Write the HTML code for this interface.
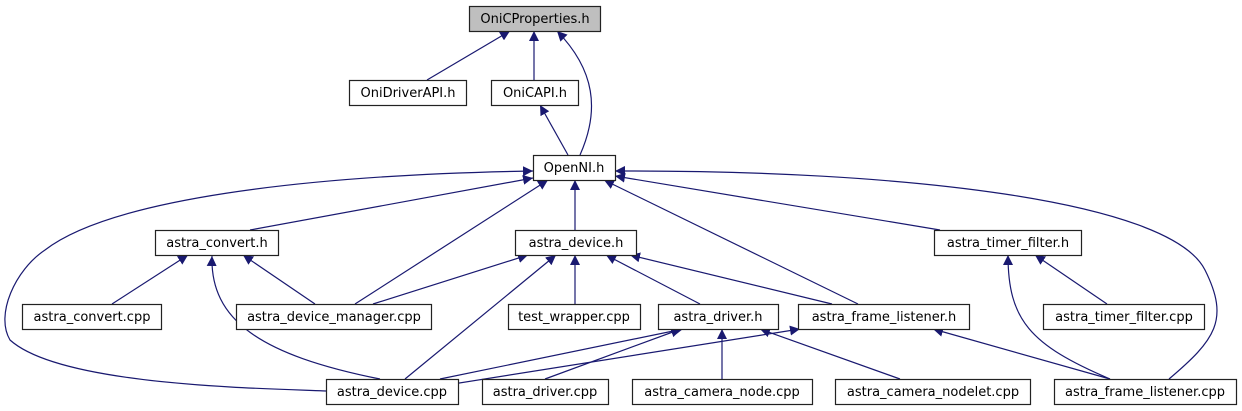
<!DOCTYPE html>
<html><head><meta charset="utf-8"><style>
html,body{margin:0;padding:0;background:#fff;width:1242px;height:411px;overflow:hidden}
svg text{font-family:"DejaVu Sans","Liberation Sans",sans-serif;font-size:13px;fill:#000}
</style></head><body>
<svg width="1242" height="411" viewBox="0 0 1242 411" xmlns="http://www.w3.org/2000/svg">
<defs><marker id="a" viewBox="0 0 10 10" refX="10" refY="5" markerWidth="10" markerHeight="10" markerUnits="userSpaceOnUse" orient="auto"><path d="M0,0 L10,5 L0,10 z" fill="#191970"/></marker></defs>
<g fill="none" stroke="#191970" stroke-width="1.2" marker-end="url(#a)">
<path d="M427,80 L510,31"/>
<path d="M534,80 L534,31"/>
<path d="M580,155 C600,110 595,70 557,31"/>
<path d="M568,155 L540,105"/>
<path d="M250,230 L533,178"/>
<path d="M355,304 L548,180"/>
<path d="M575,230 L575,180"/>
<path d="M858,304 L604,180"/>
<path d="M940,230 L615,176"/>
<path d="M1169,379 C1215,340 1230,320 1205,270 C1170,200 900,170 615,171"/>
<path d="M326,391 C250,388 60,385 10,340 C-5,315 15,270 45,250 C110,200 300,175 533,171"/>
<path d="M112,304 L188,255"/>
<path d="M315,304 L243,255"/>
<path d="M380,379 C260,355 210,320 212,256"/>
<path d="M373,304 L528,255"/>
<path d="M405,379 L556,255"/>
<path d="M575,304 L575,255"/>
<path d="M700,304 L606,255"/>
<path d="M832,304 L630,255"/>
<path d="M1110,379 C1030,345 1008,320 1008,255"/>
<path d="M1107,304 L1035,255"/>
<path d="M440,379 L683,329"/>
<path d="M453,384 L800,329"/>
<path d="M545,379 L681,329"/>
<path d="M722,379 L722,329"/>
<path d="M900,379 L760,329"/>
<path d="M1110,379 L933,329"/>
</g>
<g stroke="#222" stroke-width="1.2" fill="#fff">
<rect x="469.5" y="6.5" width="131" height="25" fill="#bfbfbf"/>
<rect x="349.5" y="80.5" width="117" height="25"/>
<rect x="491.5" y="80.5" width="87" height="25"/>
<rect x="533.5" y="155.5" width="82" height="25"/>
<rect x="155.5" y="230.5" width="123" height="25"/>
<rect x="515.5" y="230.5" width="121" height="25"/>
<rect x="934.5" y="230.5" width="147" height="25"/>
<rect x="22.5" y="304.5" width="139" height="25"/>
<rect x="236.5" y="304.5" width="195" height="25"/>
<rect x="508.5" y="304.5" width="132" height="25"/>
<rect x="658.5" y="304.5" width="120" height="25"/>
<rect x="798.5" y="304.5" width="171" height="25"/>
<rect x="1043.5" y="304.5" width="161" height="25"/>
<rect x="326.5" y="379.5" width="132" height="25"/>
<rect x="482.5" y="379.5" width="126" height="25"/>
<rect x="632.5" y="379.5" width="180" height="25"/>
<rect x="835.5" y="379.5" width="195" height="25"/>
<rect x="1054.5" y="379.5" width="182" height="25"/>
</g>
<g text-anchor="middle">
<text x="535" y="23">OniCProperties.h</text>
<text x="408" y="97">OniDriverAPI.h</text>
<text x="535" y="97">OniCAPI.h</text>
<text x="574" y="172">OpenNI.h</text>
<text x="217" y="247">astra_convert.h</text>
<text x="576" y="247">astra_device.h</text>
<text x="1008" y="247">astra_timer_filter.h</text>
<text x="92" y="321">astra_convert.cpp</text>
<text x="334" y="321">astra_device_manager.cpp</text>
<text x="574" y="321">test_wrapper.cpp</text>
<text x="718" y="321">astra_driver.h</text>
<text x="884" y="321">astra_frame_listener.h</text>
<text x="1124" y="321">astra_timer_filter.cpp</text>
<text x="392" y="396">astra_device.cpp</text>
<text x="545" y="396">astra_driver.cpp</text>
<text x="722" y="396">astra_camera_node.cpp</text>
<text x="933" y="396">astra_camera_nodelet.cpp</text>
<text x="1145" y="396">astra_frame_listener.cpp</text>
</g>
</svg>
</body></html>
